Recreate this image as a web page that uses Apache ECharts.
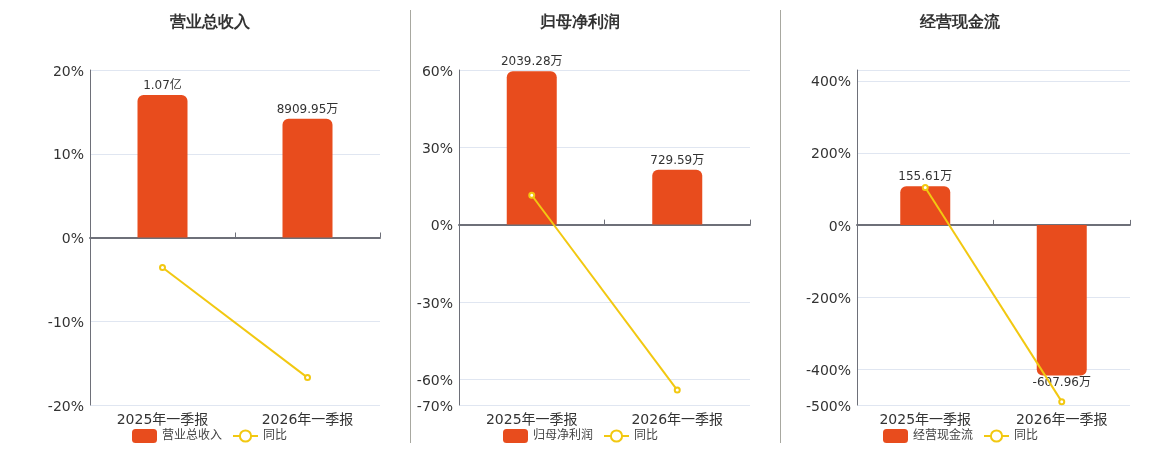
<!DOCTYPE html>
<html>
<head>
<meta charset="utf-8">
<script src="https://cdn.jsdelivr.net/npm/echarts@6/dist/echarts.min.js"></script>
<style>
html,body{margin:0;padding:0;background:#fff;}
#c{width:1160px;height:450px;}
</style>
</head>
<body>
<div id="c"></div>
<script>
// ---- data ----
var categories = ['2025年一季报', '2026年一季报'];
var titles = ['营业总收入', '归母净利润', '经营现金流'];
// bar values in 万元
var revenueValues = [10700, 8909.95];
var profitValues = [2039.28, 729.59];
var cashValues = [155.61, -607.96];
// bar labels
var revenueLabels = ['1.07亿', '8909.95万'];
var profitLabels = ['2039.28万', '729.59万'];
var cashLabels = ['155.61万', '-607.96万'];
// YoY (%)
var revenueYoY = [-3.58, -16.73];
var profitYoY = [11.4, -64.22];
var cashYoY = [104, -490.69];

// ---- layout / axis config ----
var BAR_COLOR = '#e84c1d';
var LINE_COLOR = '#f2c811';
var panels = [
  {left: 90, width: 290, center: 210, legendLeft: 127, pctMin: -20, pctMax: 20, barMax: 12580, hideMax: false,
   bars: revenueValues, labels: revenueLabels, yoy: revenueYoY, name: titles[0]},
  {left: 459, width: 291, center: 580, legendLeft: 498, pctMin: -70, pctMax: 60, barMax: 2057, hideMax: false,
   bars: profitValues, labels: profitLabels, yoy: profitYoY, name: titles[1]},
  {left: 857, width: 273, center: 960, legendLeft: 878, pctMin: -500, pctMax: 430, barMax: 625, hideMax: true,
   bars: cashValues, labels: cashLabels, yoy: cashYoY, name: titles[2]}
];

var grid = [], xAxis = [], yAxis = [], series = [], legend = [], graphic = [];
panels.forEach(function (p, i) {
  grid.push({left: p.left, width: p.width, top: 70, height: 335, containLabel: false});
  // bottom label axis
  xAxis.push({
    type: 'category', gridIndex: i, data: categories, position: 'bottom',
    axisLine: {show: false, onZero: false}, axisTick: {show: false},
    axisLabel: {fontSize: 14, color: '#333', margin: 8}
  });
  // zero line axis
  xAxis.push({
    type: 'category', gridIndex: i, data: categories,
    axisLine: {show: true, onZero: true, onZeroAxisIndex: i * 2, lineStyle: {color: '#6e7079', width: 2}},
    axisTick: {show: true, length: 5, lineStyle: {color: '#6e7079'}},
    axisLabel: {show: false}
  });
  // pct axis
  yAxis.push({
    type: 'value', gridIndex: i, min: p.pctMin, max: p.pctMax,
    axisLine: {show: true, lineStyle: {color: '#6e7079'}},
    axisTick: {show: false},
    axisLabel: {fontSize: 14, color: '#333', margin: 6, verticalAlign: 'top', lineHeight: 4,
      formatter: '{value}%', showMaxLabel: !p.hideMax},
    splitLine: {lineStyle: {color: '#e0e6f1'}}
  });
  // bar axis (hidden)
  yAxis.push({
    type: 'value', gridIndex: i, min: p.barMax * p.pctMin / p.pctMax, max: p.barMax,
    show: false, splitLine: {show: false}
  });
  var barData = p.bars.map(function (v, k) {
    return {
      value: v,
      itemStyle: {borderRadius: v >= 0 ? [6, 6, 0, 0] : [0, 0, 6, 6]},
      label: v >= 0 ? {position: 'top', distance: 5, offset: [0, 2]} : {position: 'bottom', distance: 0, offset: [0, 1]}
    };
  });
  (function (labels) {
    series.push({
      type: 'bar', name: p.name, xAxisIndex: i * 2, yAxisIndex: i * 2 + 1,
      data: barData, barWidth: 50, itemStyle: {color: BAR_COLOR},
      label: {show: true, fontSize: 12, color: '#333',
        formatter: function (prm) { return labels[prm.dataIndex]; }},
      z: 2
    });
  })(p.labels);
  series.push({
    type: 'line', name: '同比', xAxisIndex: i * 2, yAxisIndex: i * 2,
    data: p.yoy, symbol: 'emptyCircle', symbolSize: 5,
    lineStyle: {color: LINE_COLOR, width: 2}, itemStyle: {color: LINE_COLOR},
    z: 3
  });
  legend.push({
    left: p.legendLeft, top: 424, itemWidth: 25, itemHeight: 14, itemGap: 10,
    textStyle: {fontSize: 12, color: '#444'},
    data: [p.name, '同比']
  });
  graphic.push({
    type: 'text', x: p.center, y: 23,
    style: {text: p.name, fontSize: 16, fontWeight: 'bold', fill: '#333', textAlign: 'center', textVerticalAlign: 'middle'}
  });
});
graphic.push({type: 'line', shape: {x1: 410.5, y1: 10, x2: 410.5, y2: 443}, style: {stroke: '#a8a8a0', lineWidth: 1}});
graphic.push({type: 'line', shape: {x1: 780.5, y1: 10, x2: 780.5, y2: 443}, style: {stroke: '#a8a8a0', lineWidth: 1}});

var chart = echarts.init(document.getElementById('c'));
chart.setOption({
  animation: false,
  textStyle: {fontFamily: 'DejaVu Sans, Noto Sans CJK SC, sans-serif'},
  grid: grid, xAxis: xAxis, yAxis: yAxis, series: series, legend: legend, graphic: graphic
});
</script>
</body>
</html>
